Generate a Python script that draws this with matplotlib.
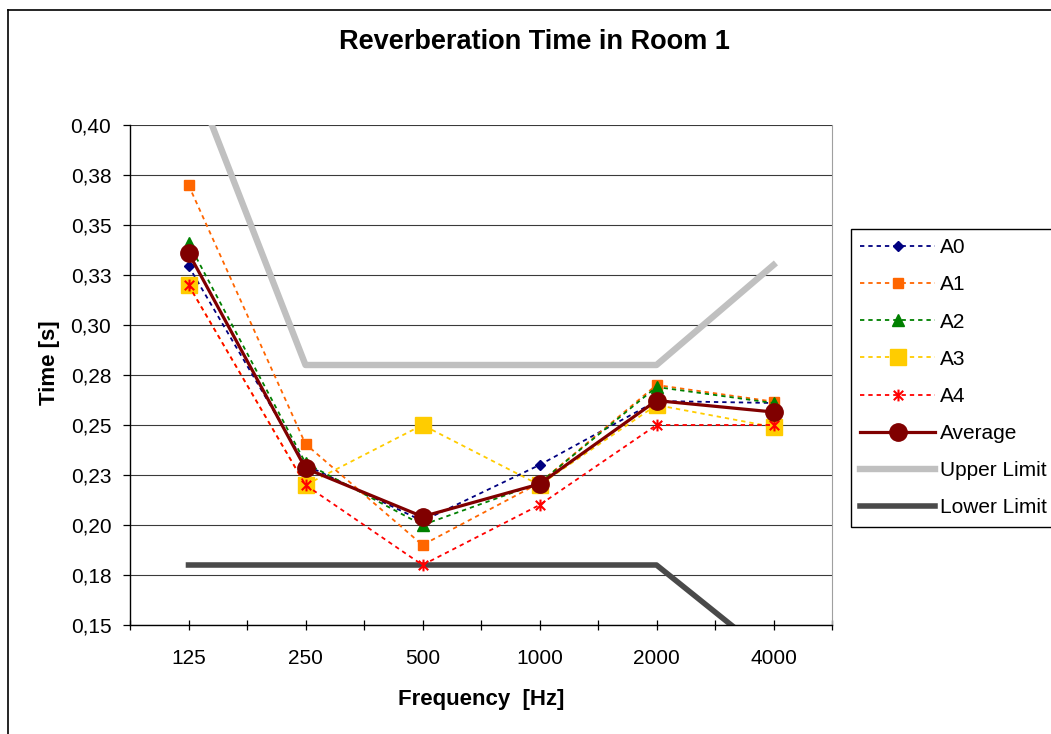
"""Reverberation time in room 1 – measured positions A0..A4, average and tolerance limits."""

import matplotlib
matplotlib.use("Agg")

import matplotlib.pyplot as plt
import numpy as np
from matplotlib.lines import Line2D
from matplotlib.path import Path

plt.rcParams["font.family"] = ["Liberation Sans", "DejaVu Sans"]

# ── Data ──────────────────────────────────────────────────────────────────────

freq_labels = ["125", "250", "500", "1000", "2000", "4000"]

a0 = [0.3295, 0.230, 0.202, 0.230, 0.262, 0.261]
a1 = [0.370, 0.2405, 0.190, 0.221, 0.270, 0.2617]
a2 = [0.341, 0.231, 0.200, 0.221, 0.269, 0.261]
a3 = [0.320, 0.220, 0.250, 0.220, 0.260, 0.249]
a4 = [0.320, 0.220, 0.180, 0.210, 0.250, 0.250]
average = [0.3361, 0.2283, 0.2042, 0.2205, 0.2622, 0.2565]
upper_limit = [0.430, 0.280, 0.280, 0.280, 0.280, 0.330]
lower_limit = [0.180, 0.180, 0.180, 0.180, 0.180, 0.133]

y_ticks = [0.150, 0.175, 0.200, 0.225, 0.250, 0.275, 0.300, 0.325, 0.350, 0.375, 0.400]
y_tick_labels = ["0,15", "0,18", "0,20", "0,23", "0,25", "0,28",
                 "0,30", "0,33", "0,35", "0,38", "0,40"]

# Excel-style asterisk marker: vertical stroke plus an X.
_star = Path(
    [(0, -1), (0, 1), (-0.8, -0.8), (0.8, 0.8), (-0.8, 0.8), (0.8, -0.8)],
    [Path.MOVETO, Path.LINETO, Path.MOVETO, Path.LINETO, Path.MOVETO, Path.LINETO],
)

W, H = 1051, 734
fig = plt.figure(figsize=(W / 100, H / 100), dpi=100)
fig.patch.set_facecolor("white")
ax = fig.add_axes([130 / W, (H - 625) / H, 702 / W, 500 / H])

x = np.arange(len(freq_labels))
dots = (0, (2.4, 2.2))

ax.plot(x, upper_limit, color="#C0C0C0", lw=4.6, zorder=2, label="Upper Limit")
ax.plot(x, lower_limit, color="#4A4A4A", lw=4.0, zorder=2, label="Lower Limit")

ax.plot(x, a0, color="#000080", ls=dots, lw=1.3, marker="D", ms=5.5,
        mfc="#000080", mec="#000080", zorder=3, label="A0")
ax.plot(x, a1, color="#FF6600", ls=dots, lw=1.3, marker="s", ms=7,
        mfc="#FF6600", mec="#FF6600", zorder=3, label="A1")
ax.plot(x, a2, color="#008000", ls=dots, lw=1.3, marker="^", ms=8,
        mfc="#008000", mec="#008000", zorder=3, label="A2")
ax.plot(x, a3, color="#FFCC00", ls=dots, lw=1.3, marker="s", ms=11,
        mfc="#FFCC00", mec="#FFCC00", zorder=3, label="A3")
ax.plot(x, a4, color="#FF0000", ls=dots, lw=1.3, marker=_star, ms=8.5,
        mfc="none", mec="#FF0000", mew=1.5, zorder=3, label="A4")
ax.plot(x, average, color="#800000", lw=2.3, marker="o", ms=12.5,
        mfc="#800000", mec="#800000", zorder=4, label="Average")

# ── Axes styling ──────────────────────────────────────────────────────────────

ax.set_xlim(-0.5, len(freq_labels) - 0.5)
ax.set_ylim(0.15, 0.40)
ax.set_xticks(x)
ax.set_xticklabels(freq_labels)
ax.set_xticks(np.arange(-0.5, len(freq_labels), 1.0), minor=True)
ax.set_yticks(y_ticks)
ax.set_yticklabels(y_tick_labels)

ax.tick_params(axis="x", which="both", direction="inout", length=7.5, width=0.9,
               labelsize=15, pad=13.5)
ax.tick_params(axis="y", direction="out", length=5, width=0.9, labelsize=15, pad=8.5)

for yv in y_ticks:
    ax.axhline(yv, color="#3A3A3A", lw=0.8, zorder=1)

ax.spines["top"].set_visible(False)
ax.spines["right"].set_color("#A0A0A0")
ax.spines["left"].set_linewidth(1.0)
ax.spines["bottom"].set_linewidth(1.0)

ax.set_xlabel("Frequency  [Hz]", fontsize=16, fontweight="bold", labelpad=15)
ax.set_ylabel("Time [s]", fontsize=16, fontweight="bold")
ax.yaxis.set_label_coords(-0.10, 0.525)

fig.text(534.5 / W, 1 - 49 / H, "Reverberation Time in Room 1", ha="center",
         va="baseline", fontsize=19.5, fontweight="bold")

# ── Legend (order as in the reference) ────────────────────────────────────────

handles, labels = ax.get_legend_handles_labels()
order = ["A0", "A1", "A2", "A3", "A4", "Average", "Upper Limit", "Lower Limit"]
by_label = dict(zip(labels, handles))
leg = ax.legend([by_label[k] for k in order], order, loc="upper left",
                bbox_to_anchor=(851 / W, 1 - 229 / H), bbox_transform=fig.transFigure,
                borderaxespad=0, fontsize=15, frameon=True, fancybox=False,
                edgecolor="black", framealpha=1, borderpad=0.45, handlelength=3.6,
                handletextpad=0.2, labelspacing=0.87, numpoints=1)
leg.get_frame().set_linewidth(1.0)

# Chart-area border (only its top and left edges are inside the picture).
fig.add_artist(Line2D([8 / W, 8 / W], [0, 1 - 10 / H], color="black", lw=1.2,
                      transform=fig.transFigure))
fig.add_artist(Line2D([8 / W, 1], [1 - 10 / H, 1 - 10 / H], color="black", lw=1.2,
                      transform=fig.transFigure))

fig.savefig("out.png", dpi=100)
plt.close(fig)
